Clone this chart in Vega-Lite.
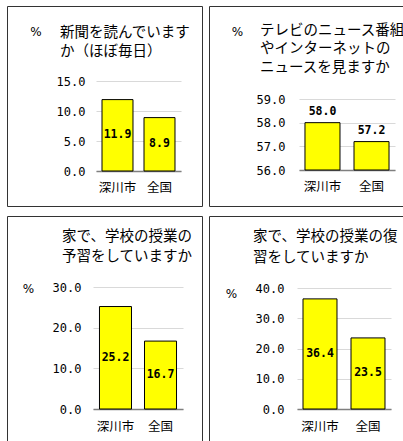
{
  "$schema": "https://vega.github.io/schema/vega-lite/v6.json",
  "padding": {"left": 6, "top": 5, "right": 0, "bottom": 0},
  "background": "white",
  "datasets": {
    "d1": [{"area": "深川市", "value": 11.9}, {"area": "全国", "value": 8.9}],
    "d2": [{"area": "深川市", "value": 58.0}, {"area": "全国", "value": 57.2}],
    "d3": [{"area": "深川市", "value": 25.2}, {"area": "全国", "value": 16.7}],
    "d4": [{"area": "深川市", "value": 36.4}, {"area": "全国", "value": 23.5}]
  },
  "config": {
    "view": {"stroke": "#333333", "strokeWidth": 1},
    "title": {"font": "Noto Sans CJK JP", "fontSize": 14.5, "fontWeight": "normal", "color": "#000000", "anchor": "start", "frame": "group", "baseline": "top"},
    "axis": {"labelColor": "#000000", "titleColor": "#000000", "domain": false, "ticks": false, "tickSize": 0},
    "axisX": {"labelFont": "Noto Sans CJK JP", "labelFontSize": 12.5, "labelAngle": 0, "title": null, "grid": false, "domain": true, "domainColor": "#7f7f7f", "domainWidth": 1.5, "zindex": 1},
    "axisY": {"labelFont": "DejaVu Sans Mono", "labelFontSize": 12, "format": ".1f", "grid": true, "gridColor": "#d9d9d9", "gridWidth": 1, "labelPadding": 2, "titleAngle": 0, "titleAlign": "center", "titleBaseline": "middle", "titleFont": "DejaVu Sans", "titleFontSize": 12, "titleFontWeight": "normal"},
    "bar": {"fill": "#ffff00", "stroke": "#000000", "strokeWidth": 1},
    "text": {"font": "DejaVu Sans Mono", "fontSize": 11.5, "fontWeight": "bold", "color": "#000000"}
  },
  "bounds": "flush",
  "spacing": {"row": 10, "column": 7},
  "columns": 2,
  "concat": [
    {
      "width": 195, "height": 200,
      "data": {"name": "d1"},
      "title": {"text": ["新聞を読んでいます", "か（ほぼ毎日）"], "offset": -53.5, "dx": 53, "lineHeight": 19},
      "encoding": {
        "x": {"field": "area", "type": "nominal", "sort": null,
          "scale": {"domain": ["深川市", "全国"], "range": [89, 174], "paddingInner": 0.262, "paddingOuter": 0.143},
          "axis": {"orient": "bottom", "offset": -35, "labelPadding": 10}}
      },
      "layer": [
        {"mark": {"type": "bar"},
         "encoding": {"y": {"field": "value", "type": "quantitative",
           "scale": {"domain": [0, 15], "range": [165, 75], "nice": false, "zero": false},
           "axis": {"orient": "left", "offset": -80, "values": [0, 5, 10, 15], "title": "%", "titleX": -51.5, "titleY": 25.7}}}},
        {"mark": {"type": "text", "baseline": "middle"},
         "encoding": {"y": {"field": "value", "type": "quantitative", "stack": "zero", "bandPosition": 0.5},
           "text": {"field": "value", "type": "quantitative", "format": ".1f"}}}
      ]
    },
    {
      "width": 200, "height": 200,
      "data": {"name": "d2"},
      "title": {"text": ["テレビのニュース番組", "やインターネットの", "ニュースを見ますか"], "offset": -69.1, "dx": 51, "lineHeight": 18.3},
      "encoding": {
        "x": {"field": "area", "type": "nominal", "sort": null,
          "scale": {"domain": ["深川市", "全国"], "range": [90, 186], "paddingInner": 0.286, "paddingOuter": 0.122},
          "axis": {"orient": "bottom", "offset": -36, "labelPadding": 10}}
      },
      "layer": [
        {"mark": {"type": "bar"},
         "encoding": {"y": {"field": "value", "type": "quantitative",
           "scale": {"domain": [56, 59], "range": [164, 93], "nice": false, "zero": false},
           "axis": {"orient": "left", "offset": -78, "values": [56, 57, 58, 59], "title": "%", "titleX": -50, "titleY": 25}},
           "y2": {"datum": 56}}},
        {"mark": {"type": "text", "baseline": "bottom", "dy": -5.5},
         "encoding": {"y": {"field": "value", "type": "quantitative"},
           "text": {"field": "value", "type": "quantitative", "format": ".1f"}}}
      ]
    },
    {
      "width": 195, "height": 240,
      "data": {"name": "d3"},
      "title": {"text": ["家で、学校の授業の", "予習をしていますか"], "offset": -48.7, "dx": 55, "lineHeight": 20},
      "encoding": {
        "x": {"field": "area", "type": "nominal", "sort": null,
          "scale": {"domain": ["深川市", "全国"], "range": [86, 176], "paddingInner": 0.289, "paddingOuter": 0.144},
          "axis": {"orient": "bottom", "offset": -47, "labelPadding": 11}}
      },
      "layer": [
        {"mark": {"type": "bar"},
         "encoding": {"y": {"field": "value", "type": "quantitative",
           "scale": {"domain": [0, 30], "range": [193, 71], "nice": false, "zero": false},
           "axis": {"orient": "left", "offset": -76, "values": [0, 10, 20, 30], "title": "%", "titleX": -55, "titleY": 72}}}},
        {"mark": {"type": "text", "baseline": "middle"},
         "encoding": {"y": {"field": "value", "type": "quantitative", "stack": "zero", "bandPosition": 0.5},
           "text": {"field": "value", "type": "quantitative", "format": ".1f"}}}
      ]
    },
    {
      "width": 200, "height": 240,
      "data": {"name": "d4"},
      "title": {"text": ["家で、学校の授業の復", "習をしていますか"], "offset": -49.3, "dx": 44, "lineHeight": 21},
      "encoding": {
        "x": {"field": "area", "type": "nominal", "sort": null,
          "scale": {"domain": ["深川市", "全国"], "range": [88, 182], "paddingInner": 0.292, "paddingOuter": 0.125},
          "axis": {"orient": "bottom", "offset": -47, "labelPadding": 11}}
      },
      "layer": [
        {"mark": {"type": "bar"},
         "encoding": {"y": {"field": "value", "type": "quantitative",
           "scale": {"domain": [0, 40], "range": [193, 72], "nice": false, "zero": false},
           "axis": {"orient": "left", "offset": -77, "values": [0, 10, 20, 30, 40], "title": "%", "titleX": -55, "titleY": 77}}}},
        {"mark": {"type": "text", "baseline": "middle"},
         "encoding": {"y": {"field": "value", "type": "quantitative", "stack": "zero", "bandPosition": 0.5},
           "text": {"field": "value", "type": "quantitative", "format": ".1f"}}}
      ]
    }
  ]
}
